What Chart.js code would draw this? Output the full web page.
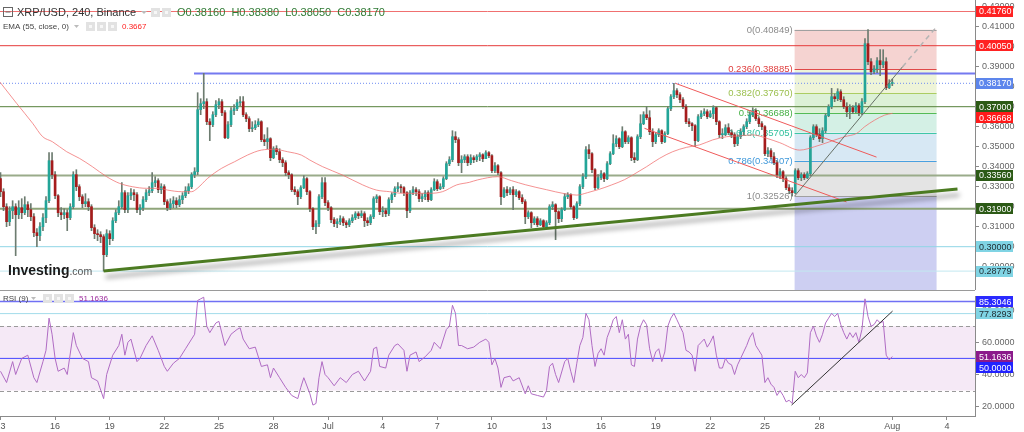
<!DOCTYPE html>
<html>
<head>
<meta charset="utf-8">
<title>XRP/USD, 240, Binance</title>
<script src="https://cdn.jsdelivr.net/npm/chart.js@4.4.1/dist/chart.umd.min.js"></script>
<style>
  html, body { margin: 0; padding: 0; background: #fff; }
  #wrap { position: relative; width: 1024px; height: 432px; overflow: hidden; }
  canvas { position: absolute; left: 0; }
  #main { top: 0; }
  #rsi { top: 290px; }
</style>
</head>
<body>
<div id="wrap">
  <canvas id="main" width="1024" height="290"></canvas>
  <canvas id="rsi" width="1024" height="142"></canvas>
</div>
<script>
// 4h candles, first one Jun 13 00:00 (6 candles per day)
const firstOpen = 0.3340;
const closes = [
  0.3275,0.3200,0.3125,0.3180,0.3200, 0.3160,0.3195,0.3170,0.3210,0.3185,
  0.3150,0.3070,0.3055,0.3100,0.3145, 0.3230,0.3430,0.3360,0.3255,0.3170,
  0.3160,0.3170,0.3145,0.3200,0.3360, 0.3300,0.3250,0.3215,0.3225,0.3200,
  0.3095,0.3065,0.3060,0.3050,0.2960, 0.3065,0.3040,0.3130,0.3170,0.3200,
  0.3270,0.3185,0.3255,0.3270,0.3260, 0.3185,0.3195,0.3235,0.3270,0.3280,
  0.3320,0.3330,0.3285,0.3300,0.3225, 0.3195,0.3215,0.3230,0.3210,0.3235,
  0.3255,0.3280,0.3300,0.3360,0.3375, 0.3685,0.3715,0.3725,0.3625,0.3610,
  0.3660,0.3710,0.3725,0.3670,0.3545, 0.3610,0.3680,0.3690,0.3720,0.3725,
  0.3660,0.3640,0.3590,0.3595,0.3610, 0.3625,0.3535,0.3525,0.3540,0.3445,
  0.3490,0.3475,0.3435,0.3420,0.3370, 0.3360,0.3285,0.3275,0.3250,0.3295,
  0.3340,0.3275,0.3190,0.3100,0.3115, 0.3250,0.3320,0.3220,0.3195,0.3135,
  0.3115,0.3125,0.3140,0.3120,0.3110, 0.3130,0.3145,0.3165,0.3155,0.3165,
  0.3130,0.3120,0.3150,0.3240,0.3250, 0.3175,0.3180,0.3165,0.3235,0.3260,
  0.3290,0.3300,0.3295,0.3270,0.3180, 0.3270,0.3285,0.3275,0.3240,0.3250,
  0.3270,0.3235,0.3285,0.3325,0.3290, 0.3300,0.3340,0.3415,0.3435,0.3550,
  0.3535,0.3420,0.3435,0.3450,0.3420, 0.3445,0.3435,0.3450,0.3460,0.3440,
  0.3470,0.3455,0.3380,0.3405,0.3370, 0.3250,0.3285,0.3270,0.3285,0.3260,
  0.3275,0.3245,0.3225,0.3150,0.3170, 0.3120,0.3140,0.3110,0.3130,0.3100,
  0.3120,0.3200,0.3210,0.3175,0.3140, 0.3185,0.3250,0.3260,0.3200,0.3145,
  0.3215,0.3300,0.3350,0.3485,0.3465, 0.3385,0.3295,0.3345,0.3365,0.3340,
  0.3415,0.3465,0.3515,0.3540,0.3500, 0.3575,0.3525,0.3545,0.3445,0.3435,
  0.3550,0.3615,0.3660,0.3645,0.3575, 0.3525,0.3560,0.3580,0.3525,0.3565,
  0.3690,0.3750,0.3780,0.3760,0.3735, 0.3700,0.3625,0.3615,0.3605,0.3530,
  0.3650,0.3665,0.3675,0.3650,0.3665, 0.3695,0.3625,0.3560,0.3560,0.3595,
  0.3570,0.3560,0.3515,0.3550,0.3575, 0.3600,0.3625,0.3660,0.3680,0.3640,
  0.3615,0.3600,0.3465,0.3480,0.3450, 0.3420,0.3360,0.3375,0.3340,0.3295,
  0.3280,0.3270,0.3380,0.3345,0.3360, 0.3345,0.3365,0.3545,0.3600,0.3560,
  0.3540,0.3580,0.3655,0.3700,0.3750, 0.3740,0.3775,0.3735,0.3700,0.3675,
  0.3695,0.3675,0.3705,0.3670,0.3725, 0.4015,0.3925,0.3875,0.3890,0.3930,
  0.3910,0.3925,0.3795,0.3816,0.3817
];
const highs = [
  0.3370,0.3290,0.3215,0.3200,0.3230, 0.3215,0.3230,0.3240,0.3250,0.3225,
  0.3215,0.3165,0.3090,0.3120,0.3165, 0.3250,0.3470,0.3470,0.3375,0.3260,
  0.3195,0.3190,0.3185,0.3215,0.3375, 0.3385,0.3310,0.3260,0.3265,0.3240,
  0.3210,0.3110,0.3085,0.3075,0.3060, 0.3085,0.3080,0.3145,0.3185,0.3230,
  0.3320,0.3280,0.3270,0.3290,0.3285, 0.3270,0.3210,0.3250,0.3285,0.3300,
  0.3370,0.3350,0.3340,0.3315,0.3310, 0.3235,0.3240,0.3250,0.3245,0.3255,
  0.3270,0.3300,0.3315,0.3370,0.3395, 0.3770,0.3740,0.3867,0.3740,0.3640,
  0.3675,0.3730,0.3740,0.3735,0.3680, 0.3625,0.3695,0.3710,0.3735,0.3750,
  0.3750,0.3670,0.3650,0.3625,0.3630, 0.3640,0.3630,0.3560,0.3595,0.3545,
  0.3500,0.3505,0.3490,0.3445,0.3430, 0.3380,0.3365,0.3300,0.3285,0.3305,
  0.3355,0.3345,0.3280,0.3195,0.3130, 0.3260,0.3345,0.3345,0.3230,0.3200,
  0.3145,0.3140,0.3155,0.3150,0.3130, 0.3140,0.3160,0.3175,0.3175,0.3180,
  0.3175,0.3145,0.3160,0.3250,0.3260, 0.3255,0.3200,0.3190,0.3245,0.3270,
  0.3300,0.3320,0.3310,0.3300,0.3275, 0.3280,0.3300,0.3295,0.3285,0.3265,
  0.3280,0.3280,0.3295,0.3340,0.3335, 0.3315,0.3350,0.3425,0.3450,0.3580,
  0.3575,0.3545,0.3455,0.3460,0.3460, 0.3460,0.3455,0.3460,0.3470,0.3465,
  0.3480,0.3475,0.3460,0.3420,0.3410, 0.3375,0.3295,0.3300,0.3295,0.3300,
  0.3285,0.3280,0.3260,0.3235,0.3180, 0.3175,0.3150,0.3150,0.3140,0.3135,
  0.3130,0.3210,0.3225,0.3215,0.3180, 0.3195,0.3265,0.3270,0.3265,0.3205,
  0.3225,0.3310,0.3365,0.3500,0.3510, 0.3470,0.3390,0.3360,0.3380,0.3370,
  0.3425,0.3475,0.3560,0.3555,0.3545, 0.3600,0.3580,0.3555,0.3550,0.3470,
  0.3560,0.3660,0.3675,0.3700,0.3680, 0.3590,0.3570,0.3590,0.3585,0.3575,
  0.3700,0.3760,0.3817,0.3790,0.3770, 0.3745,0.3710,0.3640,0.3620,0.3610,
  0.3660,0.3680,0.3690,0.3685,0.3680, 0.3705,0.3700,0.3630,0.3590,0.3610,
  0.3615,0.3585,0.3570,0.3560,0.3590, 0.3610,0.3640,0.3675,0.3695,0.3690,
  0.3650,0.3625,0.3605,0.3495,0.3490, 0.3470,0.3430,0.3390,0.3380,0.3350,
  0.3310,0.3295,0.3390,0.3390,0.3370, 0.3370,0.3375,0.3555,0.3610,0.3610,
  0.3590,0.3595,0.3665,0.3710,0.3792, 0.3765,0.3790,0.3785,0.3750,0.3720,
  0.3710,0.3705,0.3720,0.3715,0.3740, 0.4040,0.4085,0.3940,0.3905,0.3945,
  0.3985,0.3985,0.3945,0.3835,0.3838
];
const lows = [
  0.3250,0.3180,0.3100,0.3105,0.3140, 0.2955,0.3140,0.3140,0.3160,0.3150,
  0.3130,0.3050,0.3000,0.3030,0.3080, 0.3120,0.3220,0.3340,0.3240,0.3150,
  0.3135,0.3140,0.3080,0.3135,0.3190, 0.3280,0.3230,0.3195,0.3200,0.3180,
  0.3080,0.3040,0.3030,0.3020,0.2878, 0.2950,0.3010,0.3030,0.3120,0.3160,
  0.3190,0.3170,0.3170,0.3235,0.3230, 0.3170,0.3160,0.3180,0.3225,0.3255,
  0.3270,0.3300,0.3270,0.3265,0.3210, 0.3180,0.3185,0.3195,0.3195,0.3200,
  0.3215,0.3245,0.3265,0.3290,0.3345, 0.3360,0.3660,0.3690,0.3610,0.3530,
  0.3600,0.3650,0.3690,0.3655,0.3540, 0.3540,0.3600,0.3660,0.3680,0.3705,
  0.3650,0.3625,0.3575,0.3575,0.3585, 0.3600,0.3525,0.3505,0.3490,0.3430,
  0.3440,0.3460,0.3420,0.3400,0.3355, 0.3340,0.3275,0.3260,0.3210,0.3240,
  0.3290,0.3260,0.3175,0.3085,0.3065, 0.3100,0.3240,0.3205,0.3180,0.3120,
  0.3100,0.3095,0.3110,0.3105,0.3095, 0.3100,0.3120,0.3135,0.3140,0.3145,
  0.3100,0.3105,0.3110,0.3140,0.3220, 0.3160,0.3150,0.3150,0.3155,0.3220,
  0.3250,0.3275,0.3270,0.3255,0.3145, 0.3170,0.3260,0.3255,0.3225,0.3225,
  0.3235,0.3225,0.3230,0.3280,0.3280, 0.3285,0.3290,0.3335,0.3405,0.3425,
  0.3520,0.3405,0.3370,0.3420,0.3405, 0.3410,0.3420,0.3425,0.3430,0.3425,
  0.3440,0.3445,0.3370,0.3370,0.3360, 0.3210,0.3245,0.3255,0.3260,0.3185,
  0.3250,0.3235,0.3215,0.3115,0.3140, 0.3095,0.3110,0.3100,0.3105,0.3090,
  0.3095,0.3110,0.3185,0.3035,0.3120, 0.3125,0.3180,0.3240,0.3190,0.3135,
  0.3140,0.3205,0.3290,0.3340,0.3440, 0.3370,0.3285,0.3290,0.3335,0.3325,
  0.3335,0.3410,0.3460,0.3500,0.3490, 0.3495,0.3515,0.3515,0.3430,0.3420,
  0.3430,0.3540,0.3610,0.3635,0.3560, 0.3500,0.3515,0.3550,0.3515,0.3520,
  0.3560,0.3680,0.3740,0.3745,0.3720, 0.3690,0.3615,0.3600,0.3580,0.3500,
  0.3525,0.3640,0.3655,0.3640,0.3645, 0.3640,0.3610,0.3545,0.3540,0.3555,
  0.3560,0.3545,0.3500,0.3505,0.3540, 0.3560,0.3590,0.3615,0.3650,0.3630,
  0.3600,0.3585,0.3455,0.3450,0.3440, 0.3410,0.3345,0.3340,0.3325,0.3285,
  0.3265,0.3253,0.3265,0.3335,0.3330, 0.3335,0.3340,0.3355,0.3535,0.3550,
  0.3525,0.3520,0.3570,0.3650,0.3690, 0.3725,0.3730,0.3725,0.3690,0.3650,
  0.3640,0.3665,0.3670,0.3655,0.3660, 0.3715,0.3910,0.3860,0.3865,0.3870,
  0.3855,0.3895,0.3785,0.3790,0.3805
];

// EMA(55) as seen on the chart: [candle index, value]
const emaPoints = [
  [-0.3,0.3825],[5.3,0.3717],[10.6,0.3617],[13.9,0.3550],[17.1,0.3525],[21.8,0.3475],
  [26,0.3442],[30.3,0.3400],[35,0.3350],[39.2,0.3317],[43.5,0.3300],[48.1,0.3292],
  [52.4,0.3292],[55.1,0.3283],[59.7,0.3275],[63,0.3275],[64.9,0.3292],[68.3,0.3342],
  [72.9,0.3392],[77.2,0.3425],[81.4,0.3458],[86,0.3483],[90.3,0.3487],[94.6,0.3475],
  [99.2,0.3458],[101.9,0.3434],[106.2,0.3400],[112.8,0.3358],[119.4,0.3309],[124,0.3283],
  [128.3,0.3275],[132.5,0.3267],[137.2,0.3267],[141.4,0.3267],[145.7,0.3275],[150.4,0.3309],
  [154.6,0.3322],[157.3,0.3334],[163.9,0.3350],[168.5,0.3330],[173,0.3310],[180,0.3285],
  [186,0.3265],[190,0.3258],[193.5,0.3270],[197,0.3285],[201.5,0.3309],[205.7,0.3335],
  [208.4,0.3358],[213,0.3400],[217.3,0.3442],[221.6,0.3475],[226.2,0.3497],[230.5,0.3509],
  [234.8,0.3534],[239.4,0.3550],[243.7,0.3554],[248,0.3559],[252.6,0.3542],[256.9,0.3520],
  [263.5,0.3483],[268.4,0.3500],[273.4,0.3525],[278.3,0.3550],[282.3,0.3567],[284.9,0.3600],
  [288.2,0.3633],[291.5,0.3658],[294.1,0.3667]
];

// RSI(9): [candle index, value]
const rsiPoints = [
  [0,42],[2,35],[4,48],[5,40],[7,50],[9,52],[11,38],[12,35],[14,48],[15,55],[16,75],[17,65],
  [18,50],[19,42],[21,44],[22,40],[24,66],[25,58],[27,50],[29,48],[30,38],[32,36],[34,25],
  [35,40],[37,52],[39,58],[40,65],[41,52],[42,60],[43,62],[45,48],[46,50],[48,58],[50,64],
  [52,55],[54,45],[55,42],[57,47],[59,50],[61,56],[63,62],[64,65],[65,86],[66,87],[67,88],
  [68,70],[69,66],[71,72],[72,73],[74,58],[76,65],[78,68],[79,69],[80,62],[82,56],[84,57],
  [86,45],[88,46],[89,38],[90,44],[92,38],[94,32],[96,27],[98,25],[99,32],[100,38],[102,28],
  [103,21],[104,22],[105,38],[106,48],[107,40],[108,38],[110,33],[112,38],[114,35],[116,40],
  [118,42],[120,36],[122,42],[123,56],[124,57],[125,45],[127,44],[128,52],[130,58],[131,59],
  [133,55],[134,42],[135,52],[137,54],[138,48],[140,51],[142,55],[143,60],[145,56],[147,68],
  [148,70],[149,83],[150,78],[151,58],[152,58],[154,56],[156,57],[158,60],[160,62],[161,60],
  [162,46],[163,50],[164,44],[165,32],[166,38],[168,39],[169,36],[171,38],[173,28],[174,33],
  [175,28],[177,27],[179,26],[180,30],[181,45],[182,47],[183,40],[184,35],[186,48],[187,50],
  [188,42],[189,35],[190,47],[191,58],[192,63],[193,78],[194,74],[195,58],[196,45],[197,53],
  [198,56],[199,52],[200,63],[201,68],[202,74],[203,76],[204,66],[205,74],[206,62],[207,65],
  [208,46],[209,45],[210,62],[211,70],[212,74],[213,71],[214,56],[215,48],[216,54],[217,56],
  [218,48],[219,54],[220,70],[221,75],[222,78],[223,74],[224,70],[225,66],[226,55],[227,54],
  [228,52],[229,42],[230,58],[231,60],[232,62],[233,57],[234,60],[235,64],[236,52],[237,44],
  [238,44],[239,50],[240,47],[241,46],[242,40],[243,46],[244,50],[245,54],[246,58],[247,63],
  [248,66],[249,58],[250,55],[251,52],[252,35],[253,38],[254,34],[255,32],[256,27],[257,30],
  [258,27],[259,23],[260,24],[261,22],[262,42],[263,38],[264,40],[265,38],[266,41],[267,66],
  [268,70],[269,64],[270,60],[271,65],[272,72],[273,75],[274,78],[275,76],[276,78],[277,71],
  [278,66],[279,62],[280,66],[281,63],[282,66],[283,60],[284,68],[285,87],[286,76],[287,70],
  [288,71],[289,74],[290,72],[291,73],[292,52],[293,49],[294,51.1636]
];

// date axis
const dayTicks = [0, 18, 36, 54, 72, 90, 108, 126, 144, 162, 180, 198, 216, 234, 252, 270, 294, 312];
const dayLabels = ['13','16','19','22','25','28','Jul','4','7','10','13','16','19','22','25','28','Aug','4'];

// horizontal levels with price tags on the right
const levelValues = [0.41760, 0.40050, 0.38170, 0.37000, 0.36668, 0.33560, 0.31900, 0.30000, 0.28779];
const levelLine   = ['#f07070','#e53a3a', null,     '#55803a', null,     '#9aab8a','#8fa57a','#8fd6e6','#c2e8f0'];
const levelBox    = ['#ff2222','#ff2222','#5d86ec','#2c5a16','#ff1a1a','#2c5a16','#2c5a16','#80d4e4','#80d4e4'];
const levelText   = ['#fff','#fff','#fff','#fff','#fff','#fff','#fff','#1e2a30','#1e2a30'];
const resistHigh = 0.3866;   // blue line off the Jun 24 high
const resistFrom = 63.8;

// fibonacci retracement
const fibNames  = ['0', '0.236', '0.382', '0.5', '0.618', '0.786', '1'];
const fibPrices = [0.40849, 0.38885, 0.37670, 0.36688, 0.35705, 0.34307, 0.32526];
const fibFrom = 261.8, fibTo = 308.6;
const fibBands = ['#f5d3d1','#eef4d8','#dcf1d6','#d4f0e5','#d7e8f4','#e4e4e4','#cdcff2'];
const fibLineCol = ['#a0a0a0','#e04848','#abcd62','#55bb55','#3fc7a6','#4aa0e0','#a0a0a0'];
const fibTextCol = ['#8a8a8a','#e04040','#9cc04f','#45b045','#2fbf9c','#3f98da','#8a8a8a'];

// drawn trend lines: [idx0, price0, idx1, price1]
const supportLine  = [34, 0.2878, 315.5, 0.3288];
const channelUpper = [222.5, 0.3817, 288.8, 0.3448];
const channelLower = [212.3, 0.3592, 278.9, 0.3224];
const riseSolid    = [261.8, 0.3253, 297.4, 0.3900];
const riseDashed   = [297.4, 0.3900, 308.9, 0.4105];
const rsiTrend     = [260.8, 21, 294.1, 79.4];

const rsiLevels = [85.3046, 77.8293, 50];
const rsiLast = 51.1636;

const xMin = -0.165, xMax = 321.27;
const UP = '#23a598', DOWN = '#a51c1c', WICK = '#6d7c70';
const FONT = '"Liberation Sans", Arial, sans-serif';
Chart.defaults.font.family = FONT;

const opens = closes.map((c, i) => i === 0 ? firstOpen : closes[i - 1]);
const seg = s => [{x: s[0], y: s[1]}, {x: s[2], y: s[3]}];
const flat = (v, from) => [{x: from === undefined ? xMin : from, y: v}, {x: xMax, y: v}];
const lineDs = (data, color, width, extra) => Object.assign({
  type: 'line', data, borderColor: color, borderWidth: width, pointRadius: 0, fill: false
}, extra || {});
function fixY(s) { s.width = 49; s.paddingTop = 0; s.paddingBottom = 0; }

function iconBox(ctx, x, y) {
  ctx.fillStyle = '#e2e2e2';
  ctx.fillRect(x, y, 9, 9);
  ctx.fillStyle = '#f7f7f7';
  ctx.fillRect(x + 3, y + 3, 3, 3);
}
function tags(ctx, list, yScale, x) {
  let prev = -99;
  ctx.font = '9px ' + FONT;
  ctx.textAlign = 'left';
  ctx.textBaseline = 'middle';
  list.map(o => Object.assign(o, {py: yScale.getPixelForValue(o.v)}))
    .sort((a, b) => a.py - b.py)
    .forEach(o => {
      const yy = Math.max(o.py, prev + 11);
      prev = yy;
      ctx.fillStyle = o.bg;
      ctx.fillRect(x, Math.round(yy - 5.5), 37, 11);
      ctx.fillStyle = o.fg;
      ctx.fillText(o.txt, x + 3, Math.round(yy) + 0.5);
    });
}

// ---------- main price panel ----------
const mainDeco = {
  id: 'mainDeco',
  beforeDatasetsDraw(chart) {
    const {ctx, scales: {x, y}} = chart;
    const x0 = x.getPixelForValue(fibFrom), x1 = x.getPixelForValue(fibTo);
    const edges = fibPrices.concat([y.min]);
    ctx.save();
    fibBands.forEach((c, k) => {
      const ya = y.getPixelForValue(edges[k]), yb = y.getPixelForValue(edges[k + 1]);
      ctx.fillStyle = c;
      ctx.fillRect(x0, ya, x1 - x0, yb - ya);
    });
    ctx.font = '9.5px ' + FONT;
    ctx.textAlign = 'right';
    ctx.textBaseline = 'middle';
    fibPrices.forEach((p, k) => {
      const yy = Math.round(y.getPixelForValue(p)) + 0.5;
      ctx.strokeStyle = fibLineCol[k];
      ctx.lineWidth = 1;
      ctx.beginPath(); ctx.moveTo(x0, yy); ctx.lineTo(x1, yy); ctx.stroke();
      ctx.fillStyle = fibTextCol[k];
      ctx.fillText(fibNames[k] + '(' + p.toFixed(5) + ')', x0 - 2, yy);
    });
    ctx.restore();
  },
  beforeDatasetDraw(chart, args) {
    if (chart.data.datasets[args.index].label === 'support') {
      const c = chart.ctx;
      c.save();
      c.shadowColor = 'rgba(0,0,0,0.38)';
      c.shadowBlur = 5;
      c.shadowOffsetX = 2;
      c.shadowOffsetY = 6;
    }
  },
  afterDatasetDraw(chart, args) {
    if (chart.data.datasets[args.index].label === 'support') chart.ctx.restore();
  },
  afterDraw(chart) {
    const {ctx, scales: {y}} = chart;
    ctx.save();
    tags(ctx, levelValues.map((v, k) => ({v, txt: v.toFixed(5), bg: levelBox[k], fg: levelText[k]})), y, 976);

    // header
    ctx.strokeStyle = '#666'; ctx.lineWidth = 1;
    ctx.strokeRect(3.5, 7.5, 9, 9);
    ctx.beginPath(); ctx.moveTo(5.5, 12); ctx.lineTo(10.5, 12); ctx.stroke();
    ctx.textAlign = 'left'; ctx.textBaseline = 'middle';
    ctx.font = '11px ' + FONT;
    ctx.fillStyle = '#333';
    ctx.fillText('XRP/USD, 240, Binance', 17, 12.5);
    ctx.fillStyle = '#bbb';
    ctx.beginPath(); ctx.moveTo(141, 11); ctx.lineTo(147, 11); ctx.lineTo(144, 14); ctx.fill();
    iconBox(ctx, 151, 8); iconBox(ctx, 162, 8);
    ctx.fillStyle = '#2f7a34';
    ctx.fillText('O0.38160  H0.38380  L0.38050  C0.38170', 177, 12.5);

    ctx.font = '8px ' + FONT;
    ctx.fillStyle = '#444';
    ctx.fillText('EMA (55, close, 0)', 3, 26.5);
    ctx.fillStyle = '#bbb';
    ctx.beginPath(); ctx.moveTo(74, 25); ctx.lineTo(79, 25); ctx.lineTo(76.5, 28); ctx.fill();
    iconBox(ctx, 86, 22); iconBox(ctx, 97, 22); iconBox(ctx, 108, 22);
    ctx.fillStyle = '#ff2020';
    ctx.fillText('0.3667', 122, 26.5);

    // logo
    ctx.textBaseline = 'alphabetic';
    ctx.font = 'bold 14px ' + FONT;
    ctx.fillStyle = '#1a1a1a';
    ctx.fillText('Investing', 8, 275);
    const w = ctx.measureText('Investing').width;
    ctx.font = '10.5px ' + FONT;
    ctx.fillStyle = '#555';
    ctx.fillText('.com', 8 + w, 275);
    ctx.restore();
  }
};

const levelSets = [];
levelValues.forEach((v, k) => {
  if (levelLine[k]) {
    const wide = (k === 5 || k === 6) ? 2 : 1;
    levelSets.push(lineDs(flat(v), levelLine[k], wide, {order: 8}));
  }
});

new Chart(document.getElementById('main'), {
  type: 'bar',
  data: {
    datasets: [
      ...levelSets,
      lineDs(flat(resistHigh, resistFrom), '#7479f0', 2, {order: 8}),
      lineDs(flat(0.3817), '#6f8df2', 1, {order: 8, borderDash: [1, 2]}),
      {
        type: 'bar', order: 6, grouped: false, barThickness: 1,
        data: closes.map((c, i) => ({x: i, y: [lows[i], highs[i]]})),
        backgroundColor: WICK, borderWidth: 0
      },
      {
        type: 'bar', order: 5, grouped: false, barThickness: 2, minBarLength: 1,
        data: closes.map((c, i) => ({x: i, y: [opens[i], c]})),
        backgroundColor: ctx => (ctx.raw && ctx.raw.y[1] >= ctx.raw.y[0]) ? UP : DOWN,
        borderWidth: 0
      },
      lineDs(emaPoints.map(p => ({x: p[0], y: p[1]})), 'rgba(240,110,110,0.75)', 1,
        {order: 4, cubicInterpolationMode: 'monotone'}),
      lineDs(seg(channelUpper), '#ef5a5a', 1, {order: 3}),
      lineDs(seg(channelLower), '#ef5a5a', 1, {order: 3}),
      lineDs(seg(riseSolid), '#667066', 1, {order: 2}),
      lineDs(seg(riseDashed), '#b4b4b4', 1.5, {order: 2, borderDash: [5, 4]}),
      lineDs(seg(supportLine), '#4c7b22', 3, {order: 1, label: 'support'})
    ]
  },
  options: {
    responsive: false,
    animation: false,
    events: [],
    layout: {padding: 0},
    plugins: {legend: {display: false}, tooltip: {enabled: false}},
    scales: {
      x: {type: 'linear', min: xMin, max: xMax, offset: false, display: false},
      y: {
        position: 'right', min: 0.27835, max: 0.42335,
        border: {display: true, color: '#8a8a8a'},
        grid: {drawOnChartArea: false, drawTicks: true, tickLength: 4, color: '#8a8a8a'},
        ticks: {
          stepSize: 0.01, includeBounds: false, padding: 3, color: '#666',
          font: {size: 9}, callback: v => v.toFixed(5)
        },
        afterBuildTicks: s => { s.ticks = s.ticks.filter(t => t.value > 0.285); },
        afterFit: fixY
      }
    }
  },
  plugins: [mainDeco]
});

// ---------- RSI panel ----------
const rsiDeco = {
  id: 'rsiDeco',
  beforeDatasetsDraw(chart) {
    const {ctx, chartArea: a, scales: {y}} = chart;
    const y70 = y.getPixelForValue(70), y30 = y.getPixelForValue(30);
    ctx.save();
    ctx.fillStyle = '#f5e9f6';
    ctx.fillRect(a.left, y70, a.right - a.left, y30 - y70);
    ctx.strokeStyle = '#9a9a9a';
    ctx.setLineDash([4, 3]);
    [y70, y30].forEach(yy => {
      ctx.beginPath(); ctx.moveTo(a.left, Math.round(yy) + 0.5); ctx.lineTo(a.right, Math.round(yy) + 0.5); ctx.stroke();
    });
    ctx.restore();
  },
  afterDraw(chart) {
    const {ctx, chartArea: a, scales: {y}} = chart;
    ctx.save();
    ctx.strokeStyle = '#9a9a9a';
    ctx.beginPath(); ctx.moveTo(0, 0.5); ctx.lineTo(a.right, 0.5); ctx.stroke();
    tags(ctx, [
      {v: rsiLevels[0], txt: rsiLevels[0].toFixed(4), bg: '#2a2aff', fg: '#fff'},
      {v: rsiLevels[1], txt: rsiLevels[1].toFixed(4), bg: '#80d4e4', fg: '#1e2a30'},
      {v: rsiLast, txt: rsiLast.toFixed(4), bg: '#8b1a8b', fg: '#fff'},
      {v: rsiLevels[2], txt: rsiLevels[2].toFixed(4), bg: '#2222ff', fg: '#fff'}
    ], y, 976);
    ctx.font = '8px ' + FONT;
    ctx.textAlign = 'left'; ctx.textBaseline = 'middle';
    ctx.fillStyle = '#444';
    ctx.fillText('RSI (9)', 3, 8.5);
    ctx.fillStyle = '#bbb';
    ctx.beginPath(); ctx.moveTo(31, 7); ctx.lineTo(36, 7); ctx.lineTo(33.5, 10); ctx.fill();
    iconBox(ctx, 43, 4); iconBox(ctx, 54, 4); iconBox(ctx, 65, 4);
    ctx.fillStyle = '#9c2a9c';
    ctx.fillText(rsiLast.toFixed(4), 79, 8.5);
    ctx.restore();
  }
};

new Chart(document.getElementById('rsi'), {
  type: 'line',
  data: {
    datasets: [
      lineDs(flat(rsiLevels[0]), '#7070f4', 1.5, {order: 5}),
      lineDs(flat(rsiLevels[1]), '#a3dcea', 1, {order: 5}),
      lineDs(flat(rsiLevels[2]), '#4646ff', 1, {order: 5}),
      lineDs(rsiPoints.map(p => ({x: p[0], y: p[1]})), '#b06cc4', 1, {order: 2}),
      lineDs(seg(rsiTrend), '#333', 1, {order: 1})
    ]
  },
  options: {
    responsive: false,
    animation: false,
    events: [],
    layout: {padding: {top: 6}},
    plugins: {legend: {display: false}, tooltip: {enabled: false}},
    scales: {
      x: {
        type: 'linear', min: xMin, max: xMax, offset: false,
        border: {display: true, color: '#8a8a8a'},
        grid: {drawOnChartArea: false, drawTicks: true, tickLength: 4, color: '#8a8a8a'},
        ticks: {
          autoSkip: false, maxRotation: 0, padding: 1, color: '#555', font: {size: 9},
          callback: v => dayLabels[dayTicks.indexOf(v)]
        },
        afterBuildTicks: s => { s.ticks = dayTicks.map(v => ({value: v})); },
        afterFit: s => { s.height = 16; s.paddingLeft = 0; s.paddingRight = 0; }
      },
      y: {
        position: 'right', min: 14.22, max: 88.76,
        border: {display: true, color: '#8a8a8a'},
        grid: {drawOnChartArea: false, drawTicks: true, tickLength: 4, color: '#8a8a8a'},
        ticks: {
          stepSize: 20, includeBounds: false, padding: 3, color: '#666',
          font: {size: 9}, callback: v => v.toFixed(4)
        },
        afterFit: fixY
      }
    }
  },
  plugins: [rsiDeco]
});
</script>
</body>
</html>
